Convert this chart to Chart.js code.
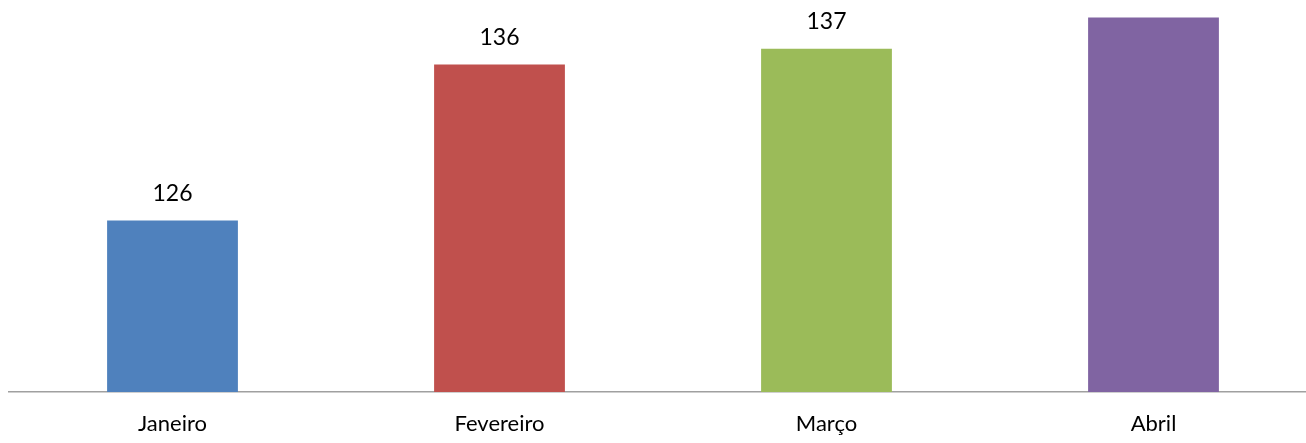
<!DOCTYPE html>
<html>
<head>
<meta charset="utf-8">
<script src="https://cdn.jsdelivr.net/npm/chart.js@4.4.0/dist/chart.umd.min.js"></script>
<style>
  html, body { margin: 0; padding: 0; background: #fff; overflow: hidden; }
  #wrap { width: 1320px; height: 443px; position: relative; }
</style>
</head>
<body>
<div id="wrap"><canvas id="c"></canvas></div>
<script>
const categories = ["Janeiro", "Fevereiro", "Março", "Abril"];
const values = [126, 136, 137, 139];
const barColors = ["#4F81BD", "#C0504D", "#9BBB59", "#8064A2"];
const yMin = 115;
const yMax = 140;

const valueLabels = {
  id: 'valueLabels',
  afterDatasetsDraw(chart) {
    const ctx = chart.ctx;
    const meta = chart.getDatasetMeta(0);
    ctx.save();
    ctx.font = '23px Lato, "Open Sans", sans-serif';
    ctx.fillStyle = '#000';
    ctx.textAlign = 'center';
    ctx.textBaseline = 'middle';
    meta.data.forEach((bar, i) => {
      ctx.fillText(String(values[i]), bar.x, bar.y - 27);
    });
    ctx.restore();
  }
};

new Chart(document.getElementById('c'), {
  type: 'bar',
  data: {
    labels: categories,
    datasets: [{
      data: values,
      backgroundColor: barColors,
      borderWidth: 0,
      barPercentage: 0.4,
      categoryPercentage: 1.0
    }]
  },
  options: {
    responsive: true,
    maintainAspectRatio: false,
    animation: false,
    layout: { padding: { left: 9, right: 3, top: 2, bottom: 0 } },
    plugins: { legend: { display: false }, tooltip: { enabled: false } },
    scales: {
      x: {
        grid: { display: false, drawTicks: false },
        border: { display: true, color: '#A0A0A0', width: 1.5 },
        ticks: { color: '#000', font: { size: 22, family: 'Lato, "Open Sans", sans-serif' }, padding: 19 },
        afterFit(scale) { scale.height = 51; }
      },
      y: {
        display: false,
        min: yMin,
        max: yMax
      }
    }
  },
  plugins: [valueLabels]
});
</script>
</body>
</html>
